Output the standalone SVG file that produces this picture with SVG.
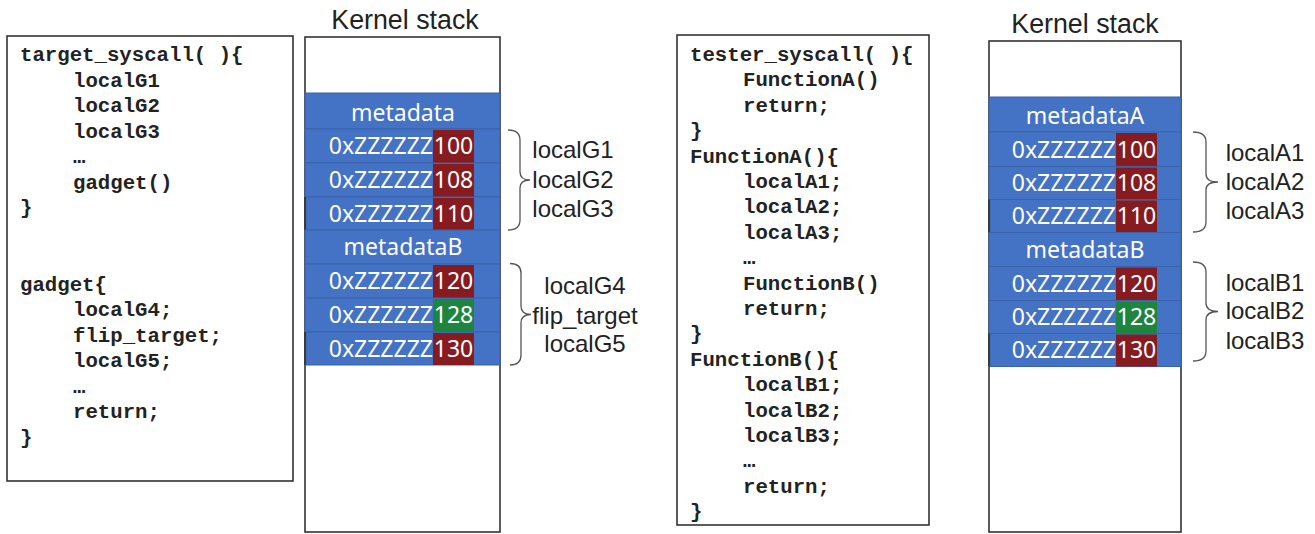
<svg xmlns="http://www.w3.org/2000/svg" width="1315" height="534" viewBox="0 0 1315 534">
<style>
.box{fill:#fff;stroke:#333;stroke-width:1.6}
.code{font-family:"Liberation Mono",monospace;font-weight:bold;font-size:20.7px;fill:#222}
.title{font-family:"Liberation Sans",Arial,sans-serif;font-size:26.8px;fill:#222;text-anchor:middle}
.lbl{font-family:"Liberation Sans",Arial,sans-serif;font-size:24px;fill:#222;text-anchor:middle}
.row{fill:#4472C4;stroke:#3a62a8;stroke-width:1}
.cell{font-family:"Noto Sans",sans-serif;font-size:23px;fill:#fff}
.red{fill:#861c1f}
.grn{fill:#1e8540}
.brace{fill:none;stroke:#555;stroke-width:1.3}
.edge{stroke:#333;stroke-width:1.6}
</style>

<g id="code-left">
<rect class="box" x="7" y="36" width="286" height="445"/>
<text class="code" x="20" y="61">target_syscall( ){</text>
<text class="code" x="73" y="86.5">localG1</text>
<text class="code" x="73" y="112">localG2</text>
<text class="code" x="73" y="137.5">localG3</text>
<text class="code" x="73" y="163">…</text>
<text class="code" x="73" y="188.5">gadget()</text>
<text class="code" x="20" y="214">}</text>
<text class="code" x="20" y="290.5">gadget{</text>
<text class="code" x="73" y="316">localG4;</text>
<text class="code" x="73" y="341.5">flip_target;</text>
<text class="code" x="73" y="367">localG5;</text>
<text class="code" x="73" y="392.5">…</text>
<text class="code" x="73" y="418">return;</text>
<text class="code" x="20" y="443.5">}</text>
</g>

<g id="stack-left">
<text class="title" x="405" y="29">Kernel stack</text>
<rect class="box" x="305" y="37" width="195" height="495"/>
<rect class="row" x="305" y="93" width="195" height="36"/>
<text class="cell" x="403" y="121" text-anchor="middle">metadata</text>
<rect class="row" x="305" y="129" width="195" height="34"/>
<rect class="red" x="433" y="130" width="41" height="33"/>
<text class="cell" x="433" y="154" text-anchor="end">0xZZZZZZ</text>
<text class="cell" x="453.5" y="154" text-anchor="middle">100</text>
<rect class="row" x="305" y="163" width="195" height="34"/>
<rect class="red" x="433" y="164" width="41" height="33"/>
<text class="cell" x="433" y="188" text-anchor="end">0xZZZZZZ</text>
<text class="cell" x="453.5" y="188" text-anchor="middle">108</text>
<rect class="row" x="306" y="197" width="194" height="33"/>
<line class="edge" x1="305" y1="197" x2="305" y2="230"/>
<rect class="red" x="433" y="198" width="41" height="32"/>
<text class="cell" x="433" y="221.5" text-anchor="end">0xZZZZZZ</text>
<text class="cell" x="453.5" y="221.5" text-anchor="middle">110</text>
<rect class="row" x="305" y="230" width="195" height="34"/>
<text class="cell" x="403" y="255" text-anchor="middle">metadataB</text>
<rect class="row" x="305" y="264" width="195" height="34"/>
<rect class="red" x="433" y="265" width="41" height="33"/>
<text class="cell" x="433" y="289" text-anchor="end">0xZZZZZZ</text>
<text class="cell" x="453.5" y="289" text-anchor="middle">120</text>
<rect class="row" x="305" y="298" width="195" height="34"/>
<rect class="grn" x="433" y="299" width="41" height="33"/>
<text class="cell" x="433" y="323" text-anchor="end">0xZZZZZZ</text>
<text class="cell" x="453.5" y="323" text-anchor="middle">128</text>
<rect class="row" x="306" y="332" width="194" height="33"/>
<line class="edge" x1="305" y1="332" x2="305" y2="365"/>
<rect class="red" x="433" y="333" width="41" height="32"/>
<text class="cell" x="433" y="356.5" text-anchor="end">0xZZZZZZ</text>
<text class="cell" x="453.5" y="356.5" text-anchor="middle">130</text>
</g>

<g id="labels-left">
<text class="lbl" x="573" y="158">localG1</text>
<text class="lbl" x="573" y="188">localG2</text>
<text class="lbl" x="573" y="217">localG3</text>
<text class="lbl" x="585" y="294">localG4</text>
<text class="lbl" x="585" y="323.5">flip_target</text>
<text class="lbl" x="585" y="352">localG5</text>
</g>

<g id="code-right">
<rect class="box" x="677" y="35" width="252" height="490"/>
<text class="code" x="690" y="61">tester_syscall( ){</text>
<text class="code" x="743" y="86.4">FunctionA()</text>
<text class="code" x="743" y="111.8">return;</text>
<text class="code" x="690" y="137.2">}</text>
<text class="code" x="690" y="162.6">FunctionA(){</text>
<text class="code" x="743" y="188">localA1;</text>
<text class="code" x="743" y="213.4">localA2;</text>
<text class="code" x="743" y="238.8">localA3;</text>
<text class="code" x="743" y="264.2">…</text>
<text class="code" x="743" y="289.6">FunctionB()</text>
<text class="code" x="743" y="315">return;</text>
<text class="code" x="690" y="340.4">}</text>
<text class="code" x="690" y="365.8">FunctionB(){</text>
<text class="code" x="743" y="391.2">localB1;</text>
<text class="code" x="743" y="416.6">localB2;</text>
<text class="code" x="743" y="442">localB3;</text>
<text class="code" x="743" y="467.4">…</text>
<text class="code" x="743" y="492.8">return;</text>
<text class="code" x="690" y="518.2">}</text>
</g>

<g id="stack-right">
<text class="title" x="1085" y="32.5">Kernel stack</text>
<rect class="box" x="989" y="41" width="192" height="491"/>
<rect class="row" x="989" y="97" width="192" height="35"/>
<text class="cell" x="1085" y="124" text-anchor="middle">metadataA</text>
<rect class="row" x="989" y="132" width="192" height="34.5"/>
<rect class="red" x="1116" y="133" width="41" height="33.5"/>
<text class="cell" x="1116" y="157.5" text-anchor="end">0xZZZZZZ</text>
<text class="cell" x="1136.5" y="157.5" text-anchor="middle">100</text>
<rect class="row" x="989" y="166.5" width="192" height="33"/>
<rect class="red" x="1116" y="167.5" width="41" height="32"/>
<text class="cell" x="1116" y="191" text-anchor="end">0xZZZZZZ</text>
<text class="cell" x="1136.5" y="191" text-anchor="middle">108</text>
<rect class="row" x="990" y="199.5" width="191" height="33"/>
<line class="edge" x1="989" y1="199.5" x2="989" y2="232.5"/>
<rect class="red" x="1116" y="200.5" width="41" height="32"/>
<text class="cell" x="1116" y="224" text-anchor="end">0xZZZZZZ</text>
<text class="cell" x="1136.5" y="224" text-anchor="middle">110</text>
<rect class="row" x="989" y="232.5" width="192" height="34"/>
<text class="cell" x="1085" y="258" text-anchor="middle">metadataB</text>
<rect class="row" x="989" y="266.5" width="192" height="34"/>
<rect class="red" x="1116" y="267.5" width="41" height="33"/>
<text class="cell" x="1116" y="291.5" text-anchor="end">0xZZZZZZ</text>
<text class="cell" x="1136.5" y="291.5" text-anchor="middle">120</text>
<rect class="row" x="989" y="300.5" width="192" height="33"/>
<rect class="grn" x="1116" y="301.5" width="41" height="32"/>
<text class="cell" x="1116" y="325" text-anchor="end">0xZZZZZZ</text>
<text class="cell" x="1136.5" y="325" text-anchor="middle">128</text>
<rect class="row" x="990" y="333.5" width="191" height="33"/>
<line class="edge" x1="989" y1="333.5" x2="989" y2="366.5"/>
<rect class="red" x="1116" y="334.5" width="41" height="32"/>
<text class="cell" x="1116" y="358" text-anchor="end">0xZZZZZZ</text>
<text class="cell" x="1136.5" y="358" text-anchor="middle">130</text>
</g>

<g id="labels-right">
<text class="lbl" x="1265" y="160.5">localA1</text>
<text class="lbl" x="1265" y="190">localA2</text>
<text class="lbl" x="1265" y="218.5">localA3</text>
<text class="lbl" x="1265" y="290.5">localB1</text>
<text class="lbl" x="1265" y="319">localB2</text>
<text class="lbl" x="1265" y="348.5">localB3</text>
</g>

<g id="connectors">
<path class="brace" d="M508,130 Q520,130 520,140 L520,172 Q520,180 530,180 Q520,180 520,188 L520,220 Q520,230 508,230"/>
<path class="brace" d="M510,263.5 Q521,263.5 521,273 L521,306 Q521,314.5 531,314.5 Q521,314.5 521,323 L521,355 Q521,365 510,365"/>
<path class="brace" d="M1193,132 Q1206,132 1206,142 L1206,174 Q1206,182 1218,182 Q1206,182 1206,190 L1206,222 Q1206,232 1193,232"/>
<path class="brace" d="M1193,262 Q1206,262 1206,272 L1206,303 Q1206,311.5 1218,311.5 Q1206,311.5 1206,320 L1206,351 Q1206,361 1193,361"/>
</g>
</svg>
